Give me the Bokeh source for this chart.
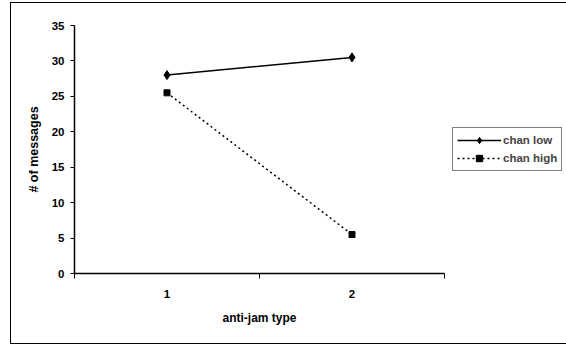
from bokeh.plotting import figure
from bokeh.models import FixedTicker, Legend, LegendItem, Range1d
from bokeh.embed import file_html
from bokeh.resources import INLINE

# data
anti_jam_type = [1, 2]
tick_labels = {1: "1", 2: "2"}
chan_low = [28.0, 30.5]
chan_high = [25.5, 5.5]
y_ticks = [0, 5, 10, 15, 20, 25, 30, 35]

FONT = "Liberation Sans"

p = figure(frame_width=370, frame_height=248, output_backend="svg", toolbar_location=None,
           x_range=Range1d(0.5, 2.5), y_range=Range1d(0, 35),
           min_border_left=63, min_border_right=118, min_border_top=22, min_border_bottom=70)
p.styles = {"border": "1px solid black", "margin-left": "10px", "margin-top": "2px"}
p.outline_line_color = None
p.xgrid.grid_line_color = None
p.ygrid.grid_line_color = None
p.background_fill_color = "white"
p.border_fill_color = "white"

r1 = p.line(anti_jam_type, chan_low, line_color="black", line_width=1.5)
m1 = p.scatter(anti_jam_type, chan_low, marker="diamond", size=9, fill_color="black", line_color="black")
r2 = p.line(anti_jam_type, chan_high, line_color="black", line_width=1.5, line_dash="2 3")
m2 = p.scatter(anti_jam_type, chan_high, marker="square", size=6, fill_color="black", line_color="black")

# x axis
xa = p.xaxis[0]
xa.ticker = FixedTicker(ticks=anti_jam_type, minor_ticks=[0.5, 1.5, 2.5])
xa.major_label_overrides = tick_labels
xa.major_tick_line_color = None
xa.minor_tick_in = 0
xa.minor_tick_out = 5
xa.minor_tick_line_color = "black"
xa.axis_line_color = "black"
xa.axis_line_width = 1.5
xa.major_label_standoff = 10
xa.axis_label = "anti-jam type"
xa.axis_label_standoff = 10
xa.axis_label_text_font = FONT
xa.axis_label_text_font_style = "bold"
xa.axis_label_text_font_size = "12px"
xa.axis_label_text_color = "black"
xa.major_label_text_font = FONT
xa.major_label_text_font_style = "bold"
xa.major_label_text_font_size = "11.5px"
xa.major_label_text_color = "black"

# y axis
ya = p.yaxis[0]
ya.ticker = FixedTicker(ticks=y_ticks)
ya.major_tick_in = 0
ya.major_tick_out = 4
ya.minor_tick_line_color = None
ya.axis_line_color = "black"
ya.axis_line_width = 1.5
ya.major_label_standoff = 6
ya.axis_label = "# of messages"
ya.axis_label_standoff = 8
ya.axis_label_text_font = FONT
ya.axis_label_text_font_style = "bold"
ya.axis_label_text_font_size = "12.5px"
ya.axis_label_text_color = "black"
ya.major_label_text_font = FONT
ya.major_label_text_font_style = "bold"
ya.major_label_text_font_size = "11.5px"
ya.major_label_text_color = "black"

legend = Legend(items=[LegendItem(label="chan low", renderers=[r1, m1]),
                       LegendItem(label="chan high", renderers=[r2, m2])],
                location="center_left", margin=8, padding=4, spacing=2,
                border_line_color="black", border_line_width=1,
                label_text_font=FONT, label_text_font_style="bold",
                label_text_font_size="11.5px", glyph_width=44, glyph_height=16,
                label_standoff=2, label_height=16)
p.add_layout(legend, "right")

open("out.html", "w").write(file_html(p, INLINE))
